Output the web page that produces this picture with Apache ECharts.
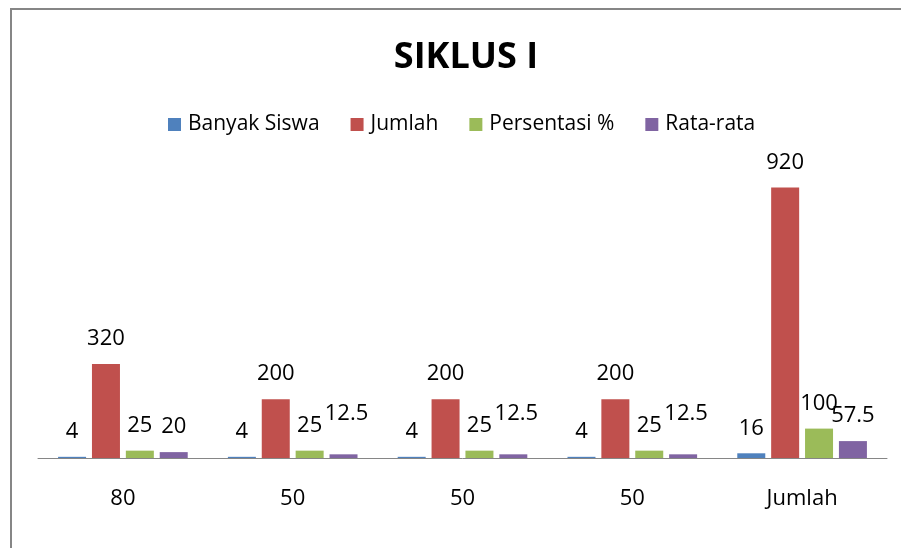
<!DOCTYPE html>
<html>
<head>
<meta charset="utf-8">
<script src="https://cdn.jsdelivr.net/npm/echarts@6/dist/echarts.min.js"></script>
<style>
  html, body { margin: 0; padding: 0; background: #fff; }
  #chart { width: 901px; height: 548px; }
</style>
</head>
<body>
<div id="chart"></div>
<script>
// chart data
const categories = ['80', '50', '50', '50', 'Jumlah'];
const seriesNames = ['Banyak Siswa', 'Jumlah', 'Persentasi %', 'Rata-rata'];
const banyakSiswa = [4, 4, 4, 4, 16];
const jumlah = [320, 200, 200, 200, 920];
const persentasi = [25, 25, 25, 25, 100];
const rataRata = [20, 12.5, 12.5, 12.5, 57.5];

const colors = ['#4F81BD', '#C0504D', '#9BBB59', '#8064A2'];
const font = '"Open Sans", sans-serif';

const chart = echarts.init(document.getElementById('chart'));

// excel pushed some labels up to avoid overlaps
function withLabelShift(values, shiftIdx) {
  return values.map((v, i) => {
    if (shiftIdx.indexOf(i) >= 0) {
      return { value: v, label: { offset: [3, -16] } };
    }
    return v;
  });
}

const allValues = [banyakSiswa, jumlah, persentasi, rataRata];

const series = allValues.map((vals, i) => ({
  name: seriesNames[i],
  type: 'bar',
  barWidth: 28,
  barGap: '21%',
  itemStyle: { color: colors[i] },
  label: {
    show: true,
    position: 'top',
    distance: 14,
    color: '#000',
    fontFamily: font,
    fontSize: 22
  },
  data: i === 3 ? withLabelShift(vals, [1, 2, 3]) : vals
}));

let option = {
  animation: false,
  title: {
    text: 'SIKLUS I',
    left: 461,
    textAlign: 'center',
    top: 35,
    textStyle: {
      fontFamily: font,
      fontWeight: 'bold',
      fontSize: 36,
      color: '#000'
    }
  },
  legend: {
    top: 114,
    left: 168,
    padding: 0,
    itemWidth: 13,
    itemHeight: 13,
    itemGap: 31,
    icon: 'rect',
    textStyle: {
      fontFamily: font,
      fontSize: 21,
      color: '#000',
      padding: [0, 0, 0, 2]
    },
    data: seriesNames
  },
  grid: {
    left: 38,
    right: 14,
    top: 164,
    bottom: 90,
    containLabel: false
  },
  xAxis: {
    type: 'category',
    data: categories,
    axisLine: { lineStyle: { color: '#868686', width: 1 } },
    axisTick: { show: false },
    axisLabel: {
      margin: 30,
      color: '#000',
      fontFamily: font,
      fontSize: 22
    }
  },
  yAxis: {
    type: 'value',
    min: 0,
    max: 1000,
    show: false
  },
  graphic: [
    {
      type: 'rect',
      shape: { x: 11, y: 9, width: 2000, height: 2000 },
      style: { fill: 'none', stroke: '#868686', lineWidth: 2 },
      silent: true
    }
  ],
  series: series
};

chart.setOption(option);
</script>
</body>
</html>
